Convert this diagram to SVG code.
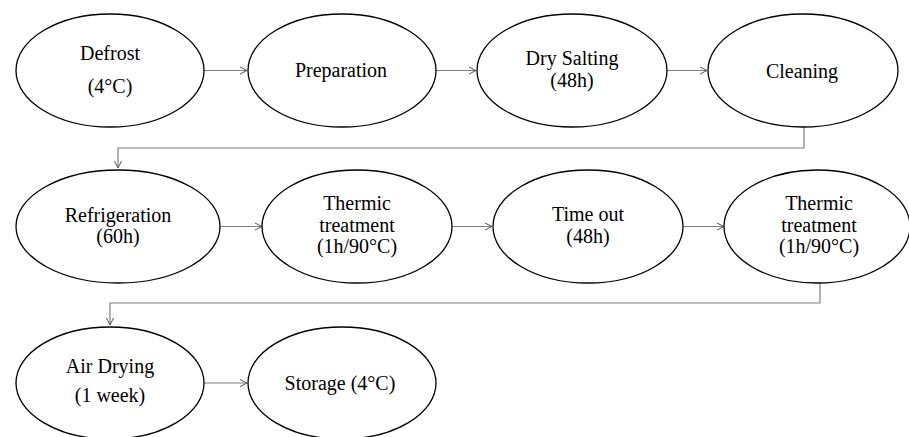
<svg xmlns="http://www.w3.org/2000/svg" width="909" height="437" viewBox="0 0 909 437">
<defs>
<style>
.n ellipse{fill:#fff;stroke:#000;stroke-width:1.3}
.n text{font-family:"Liberation Serif","Times New Roman",serif;font-size:20px;fill:#000;text-anchor:middle}
.c path{fill:none;stroke:#7f7f7f;stroke-width:1.2}
</style>
<marker id="ah" markerWidth="10" markerHeight="10" refX="8" refY="4" orient="auto" markerUnits="userSpaceOnUse" viewBox="0 0 10 8">
<path d="M1,0.5 L8,4 L1,7.5" fill="none" stroke="#555" stroke-width="1"/>
</marker>
</defs>
<rect width="909" height="437" fill="#fff"/>
<g class="c" id="connectors">
<path d="M204,70.5 H247" marker-end="url(#ah)"/>
<path d="M436,70.5 H476" marker-end="url(#ah)"/>
<path d="M667,70.5 H707" marker-end="url(#ah)"/>
<path d="M804,127 V148 H118 V168" marker-end="url(#ah)"/>
<path d="M220,226.5 H262" marker-end="url(#ah)"/>
<path d="M452,226.5 H492" marker-end="url(#ah)"/>
<path d="M683,226.5 H724" marker-end="url(#ah)"/>
<path d="M820,283 V303 H110 V325" marker-end="url(#ah)"/>
<path d="M204,383 H247" marker-end="url(#ah)"/>
</g>
<g class="n" id="defrost"><ellipse cx="110" cy="70.5" rx="94" ry="56.5"/><text x="110" y="60">Defrost</text><text x="110" y="93">(4°C)</text></g>
<g class="n" id="preparation"><ellipse cx="342" cy="70.5" rx="94" ry="56.5"/><text x="341" y="77">Preparation</text></g>
<g class="n" id="dry-salting"><ellipse cx="572" cy="70.5" rx="95" ry="56.5"/><text x="572" y="65">Dry Salting</text><text x="572" y="87">(48h)</text></g>
<g class="n" id="cleaning"><ellipse cx="803" cy="70.5" rx="95" ry="56.5"/><text x="802" y="78">Cleaning</text></g>
<g class="n" id="refrigeration"><ellipse cx="118" cy="226.5" rx="102" ry="56.5"/><text x="118" y="222">Refrigeration</text><text x="118" y="243">(60h)</text></g>
<g class="n" id="thermic1"><ellipse cx="357" cy="226.5" rx="95" ry="56.5"/><text x="357" y="210">Thermic</text><text x="357" y="232">treatment</text><text x="357" y="253">(1h/90°C)</text></g>
<g class="n" id="time-out"><ellipse cx="588" cy="226.5" rx="95" ry="56.5"/><text x="588" y="221">Time out</text><text x="588" y="243">(48h)</text></g>
<g class="n" id="thermic2"><ellipse cx="817" cy="226.5" rx="93" ry="56.5"/><text x="819" y="210">Thermic</text><text x="819" y="232">treatment</text><text x="819" y="253">(1h/90°C)</text></g>
<g class="n" id="air-drying"><ellipse cx="110" cy="383" rx="94" ry="56"/><text x="110" y="373">Air Drying</text><text x="110" y="402">(1 week)</text></g>
<g class="n" id="storage"><ellipse cx="342" cy="383" rx="94" ry="56"/><text x="340" y="390">Storage (4°C)</text></g>
</svg>
